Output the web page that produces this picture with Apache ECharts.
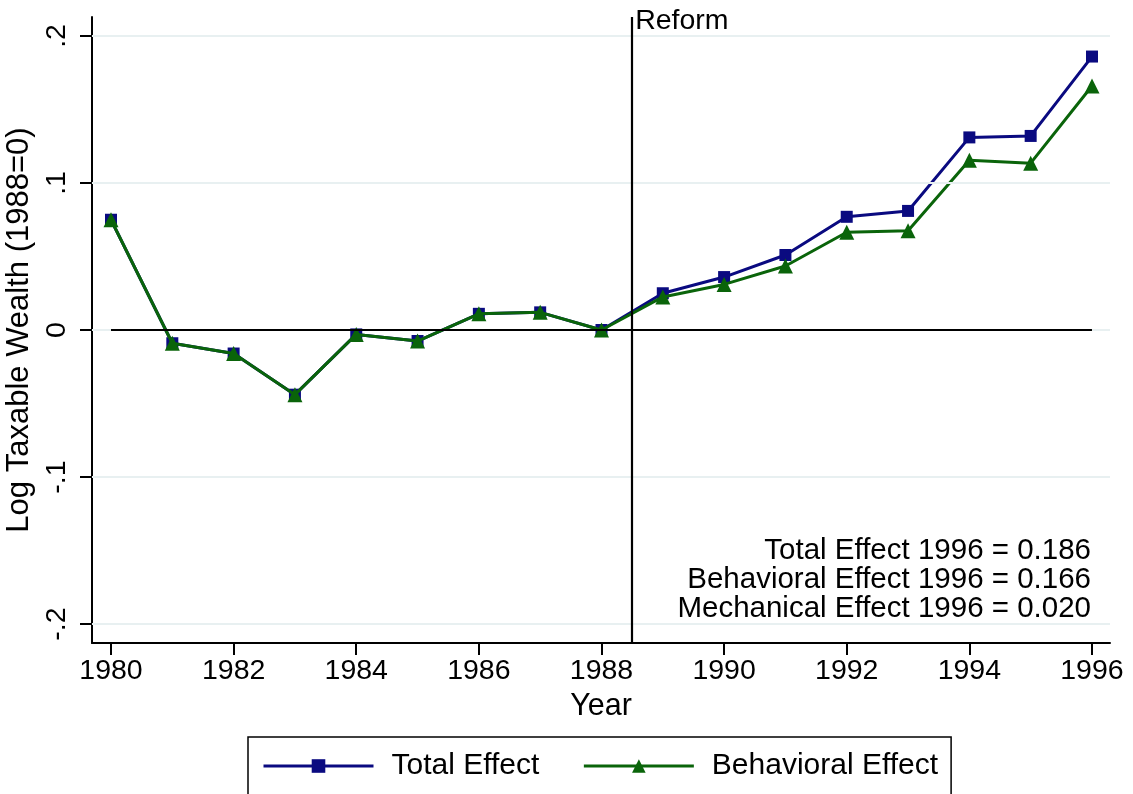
<!DOCTYPE html>
<html>
<head>
<meta charset="utf-8">
<script src="https://cdn.jsdelivr.net/npm/echarts@6/dist/echarts.min.js"></script>
<style>
html,body{margin:0;padding:0;background:#fff;}
#chart{width:1133px;height:794px;}
</style>
</head>
<body>
<div id="chart"></div>
<script>
// ---- data ----
const years = [1980,1981,1982,1983,1984,1985,1986,1987,1988,1989,1990,1991,1992,1993,1994,1995,1996];
const totalEffect = [0.075,-0.009,-0.016,-0.044,-0.003,-0.0075,0.011,0.012,0.0,0.025,0.036,0.051,0.077,0.081,0.131,0.132,0.186];
const behavioralEffect = [0.075,-0.009,-0.016,-0.044,-0.003,-0.0075,0.011,0.012,0.0,0.0225,0.031,0.0435,0.0665,0.0675,0.1155,0.1135,0.166];
const xTickValues = [1980,1982,1984,1986,1988,1990,1992,1994,1996];
const yTickValues = [-0.2,-0.1,0,0.1,0.2];
const yTickLabels = ['-.2','-.1','0','.1','.2'];
const reformYear = 1988.5;
const reformLabel = 'Reform';
const annotations = ['Total Effect 1996 = 0.186','Behavioral Effect 1996 = 0.166','Mechanical Effect 1996 = 0.020'];
const seriesNames = ['Total Effect','Behavioral Effect'];
const xName = 'Year';
const yName = 'Log Taxable Wealth (1988=0)';

const FONT = 'Liberation Sans, Arial, Helvetica, sans-serif';
const FS = 28.5;
const X_MIN = 1979.69, X_MAX = 1996.294;
const Y_MIN = -0.2129, Y_MAX = 0.2129;

const chart = echarts.init(document.getElementById('chart'), null, {renderer:'canvas'});

const option = {
  animation: false,
  backgroundColor: '#fff',
  textStyle: {fontFamily: FONT},
  grid: {left: 92, right: 23, top: 17, bottom: 151, containLabel: false, outerBoundsMode: 'none'},
  xAxis: {
    type: 'value', min: X_MIN, max: X_MAX,
    name: xName, nameLocation: 'middle', nameGap: 46,
    nameTextStyle: {fontSize: 30.5, color: '#000', fontFamily: FONT},
    axisLine: {show: true, onZero: false, lineStyle: {color: '#000', width: 2}},
    axisTick: {show: true, length: 12, lineStyle: {color: '#000', width: 2}, customValues: xTickValues},
    axisLabel: {show: true, fontSize: FS, color: '#000', margin: 14, fontFamily: FONT,
      customValues: xTickValues, formatter: v => String(v)},
    splitLine: {show: false}
  },
  yAxis: {
    type: 'value', min: Y_MIN, max: Y_MAX,
    name: yName, nameLocation: 'middle', nameGap: 50, nameRotate: 90,
    nameTextStyle: {fontSize: 31, color: '#000', fontFamily: FONT},
    axisLine: {show: true, onZero: false, lineStyle: {color: '#000', width: 2}},
    axisTick: {show: true, length: 12, lineStyle: {color: '#000', width: 2}, customValues: yTickValues},
    axisLabel: {show: true, rotate: 90, fontSize: FS, color: '#000', margin: 20, fontFamily: FONT,
      customValues: yTickValues,
      formatter: v => { const i = yTickValues.findIndex(t => Math.abs(t - v) < 1e-9); return i >= 0 ? yTickLabels[i] : ''; }},
    splitLine: {show: false}
  },
  legend: {
    data: seriesNames,
    left: 248, top: 737,
    orient: 'horizontal',
    itemWidth: 110, itemHeight: 17, itemGap: 43,
    padding: [14, 13, 14, 14],
    borderColor: '#000', borderWidth: 1.5, borderRadius: 0,
    lineStyle: {width: 3},
    textStyle: {fontSize: 30, color: '#000', fontFamily: FONT, padding: [0, 0, 0, 13]}
  },
  series: [
    {
      name: 'grid', type: 'line', data: [], z: 0, silent: true,
      markLine: {
        silent: true, symbol: 'none', label: {show: false}, animation: false,
        lineStyle: {color: '#e8f0f1', width: 2, type: 'solid'},
        data: yTickValues.map(v => ({yAxis: v}))
      }
    },
    {
      name: 'refs', type: 'line', data: [], z: 1, silent: true,
      markLine: {
        silent: true, symbol: 'none', label: {show: false}, animation: false,
        lineStyle: {color: '#000', width: 2.2, type: 'solid'},
        data: [
          [{coord: [years[0], 0]}, {coord: [years[years.length - 1], 0]}],
          {xAxis: reformYear}
        ]
      }
    },
    {
      name: seriesNames[0], type: 'line', z: 3,
      data: years.map((y, i) => [y, totalEffect[i]]),
      symbol: 'rect', symbolSize: 12,
      lineStyle: {color: '#0a0a80', width: 3},
      itemStyle: {color: '#0a0a80'}
    },
    {
      name: seriesNames[1], type: 'line', z: 4,
      data: years.map((y, i) => [y, behavioralEffect[i]]),
      symbol: 'triangle', symbolSize: 15,
      lineStyle: {color: '#0a640a', width: 3},
      itemStyle: {color: '#0a640a'}
    }
  ]
};
chart.setOption(option);

// text annotations placed relative to the axes
const reformPx = chart.convertToPixel({gridIndex: 0}, [reformYear, Y_MAX]);
const rightPx = chart.convertToPixel({gridIndex: 0}, [years[years.length - 1], 0]);
const annBase = chart.convertToPixel({gridIndex: 0}, [years[0], -0.1505]);
const graphics = [
  {type: 'text', left: reformPx[0] + 3, top: 7,
   style: {text: reformLabel, fontSize: FS, fontFamily: FONT, fill: '#000'}}
];
annotations.forEach((t, i) => {
  graphics.push({type: 'text', x: rightPx[0] - 1, y: annBase[1] + i * 28.7,
    style: {text: t, fontSize: 29.5, fontFamily: FONT, fill: '#000', align: 'right', verticalAlign: 'middle'}});
});
chart.setOption({graphic: graphics});
</script>
</body>
</html>
